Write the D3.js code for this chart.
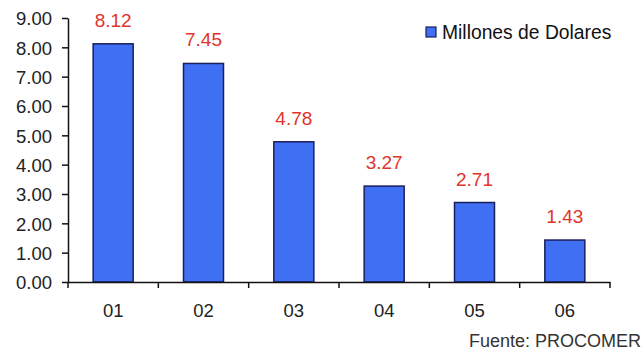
<!DOCTYPE html>
<html><head><meta charset="utf-8">
<script src="https://cdn.jsdelivr.net/npm/d3@7"></script>
<style>body{margin:0;background:#fff}svg{display:block}text{font-family:"Liberation Sans",Arial,sans-serif}</style>
</head><body><svg id="c" width="644" height="351"></svg>
<script>
const categories = ["01","02","03","04","05","06"];
const values = [8.12,7.45,4.78,3.27,2.71,1.43];
const yTicks = [0,1,2,3,4,5,6,7,8,9];
const seriesName = "Millones de Dolares";
const source = "Fuente: PROCOMER";

const svg = d3.select("#c");
const x = d3.scaleBand().domain(categories).range([68,610]).paddingInner(0).paddingOuter(0);
const y = d3.scaleLinear().domain([0,9]).range([282,18]);

// y axis
const yAxis = svg.append("g").attr("transform","translate(68,0)")
  .call(d3.axisLeft(y).tickValues(yTicks).tickFormat(d3.format(".2f")).tickSize(6).tickSizeOuter(0).tickPadding(10));
yAxis.select(".domain").attr("stroke","#111").attr("stroke-width",1.5);
yAxis.selectAll(".tick line").attr("stroke","#111").attr("stroke-width",1.5);
yAxis.selectAll("text").attr("font-size",18.5).attr("fill","#222").attr("dy","0.36em");

// bars
const bw = 40;
svg.append("g").selectAll("rect").data(values).join("rect")
  .attr("x",(d,i)=>x(categories[i])+x.bandwidth()/2-bw/2)
  .attr("y",d=>y(d)).attr("width",bw).attr("height",d=>y(0)-y(d))
  .attr("fill","#3f6ff2").attr("stroke","#1a1f5c").attr("stroke-width",1.5);

// x axis
const xAxis = svg.append("g").attr("transform","translate(0,282)")
  .call(d3.axisBottom(x).tickSize(0).tickPadding(22));
xAxis.select(".domain").attr("stroke","#111").attr("stroke-width",1.5);
xAxis.selectAll("text").attr("font-size",18.5).attr("fill","#222");
// boundary ticks
const bounds = categories.map(c=>x(c)).concat([x.range()[1]]);
svg.append("g").selectAll("line").data(bounds).join("line")
  .attr("x1",d=>d).attr("x2",d=>d).attr("y1",282).attr("y2",288)
  .attr("stroke","#111").attr("stroke-width",1.5);

// value labels
svg.append("g").selectAll("text").data(values).join("text")
  .attr("x",(d,i)=>x(categories[i])+x.bandwidth()/2)
  .attr("y",d=>y(d)-17).attr("text-anchor","middle")
  .attr("font-size",19).attr("fill","#e0352b").text(d=>d.toFixed(2));

// legend
svg.append("rect").attr("x",426).attr("y",27).attr("width",10).attr("height",10)
  .attr("fill","#3f6ff2").attr("stroke","#1a1f5c").attr("stroke-width",1.2);
svg.append("text").attr("x",442).attr("y",39).attr("font-size",19.3).attr("fill","#111").text(seriesName);

// source
svg.append("text").attr("x",641).attr("y",347).attr("text-anchor","end")
  .attr("font-size",18).attr("fill","#333").text(source);
</script></body></html>
